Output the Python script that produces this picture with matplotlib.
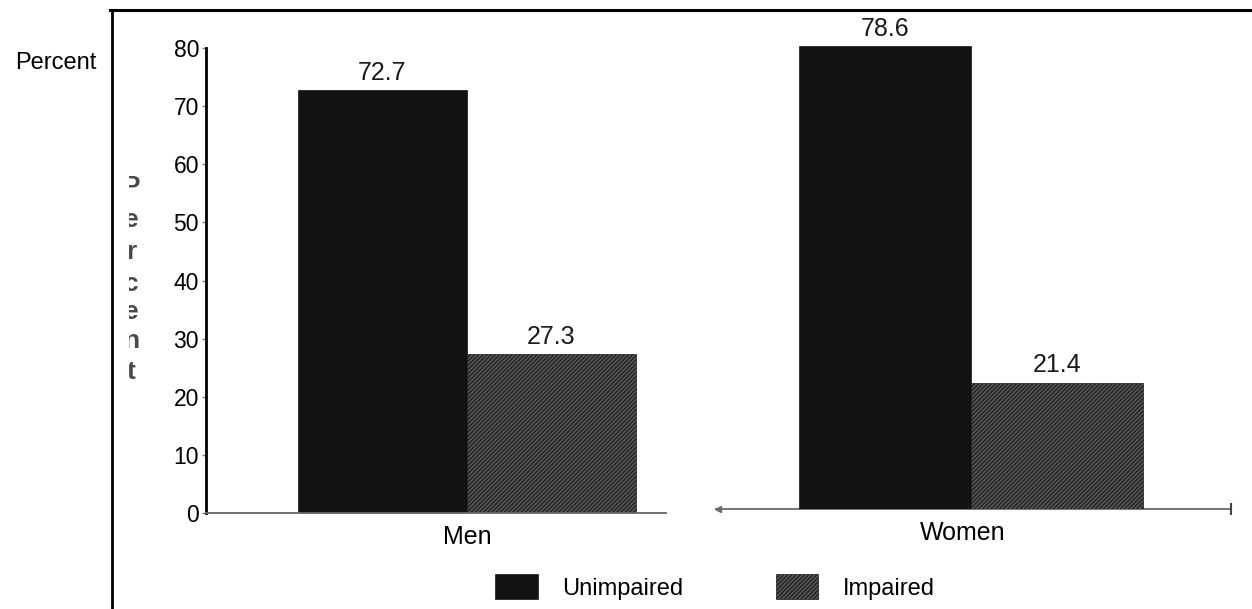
import matplotlib
matplotlib.use('Agg')
import matplotlib.pyplot as plt
from matplotlib.lines import Line2D
from matplotlib.patches import Rectangle

plt.rcParams['font.family'] = ['Liberation Sans', 'DejaVu Sans']
plt.rcParams['hatch.linewidth'] = 0.8

# data
groups = ['Men', 'Women']
series = ['Unimpaired', 'Impaired']
men_vals = [72.7, 27.3]
women_vals = [78.6, 21.4]
y_ticks = [0, 10, 20, 30, 40, 50, 60, 70, 80]

dark = '#121212'
hatch_face = '#555555'
hatch_edge = '#1a1a1a'

fig = plt.figure(figsize=(12.52, 6.09), dpi=100)

W, H = 1252, 609
def box(x0, x1, ybot, ytop):
    # pixel box -> figure fractions
    return [x0 / W, 1 - ybot / H, (x1 - x0) / W, (ybot - ytop) / H]

ax_m = fig.add_axes(box(206, 666, 513, 48))
ax_w = fig.add_axes(box(716, 1231, 509, 38))

def draw_group(ax, vals):
    bars = []
    for i, (name, v) in enumerate(zip(series, vals)):
        if name == 'Unimpaired':
            b = ax.bar(i, v, width=1.0, color=dark, edgecolor=dark, linewidth=0.5, label=name)
        else:
            b = ax.bar(i, v, width=1.0, color=hatch_face, edgecolor=hatch_edge,
                       hatch='////////', linewidth=0.5, label=name)
        ax.bar_label(b, labels=[f'{v:.1f}'], padding=4, fontsize=18, color='#1a1a1a')
        bars.append(b)
    ax.set_ylim(0, 80)
    return bars

bars = draw_group(ax_m, men_vals)
draw_group(ax_w, women_vals)

ax_m.set_xlim(-1.044, 1.678)
ax_w.set_xlim(-0.983, 2.011)

# men axis: y spine with ticks
for s in ['top', 'right']:
    ax_m.spines[s].set_visible(False)
ax_m.spines['left'].set_linewidth(2)
ax_m.spines['left'].set_color('black')
ax_m.spines['bottom'].set_linewidth(1.3)
ax_m.spines['bottom'].set_color('#666666')
ax_m.set_yticks(y_ticks)
ax_m.tick_params(axis='y', direction='out', length=3, width=1, color='#777777',
                 pad=2, labelsize=16.5)
ax_m.set_xticks([0.5])
ax_m.set_xticklabels([groups[0]], fontsize=18)
ax_m.tick_params(axis='x', length=0, pad=9)

# women axis: only a baseline with arrow ends
for s in ['top', 'right', 'left', 'bottom']:
    ax_w.spines[s].set_visible(False)
ax_w.set_yticks([])
ax_w.set_xticks([0.45])
ax_w.set_xticklabels([groups[1]], fontsize=18)
ax_w.tick_params(axis='x', length=0, pad=9)
ax_w.plot([0, 1], [0, 0], transform=ax_w.transAxes, color='#6a6a6a', lw=1.3,
          clip_on=False, zorder=0)
ax_w.plot([0.004], [0], transform=ax_w.transAxes, marker='<', ms=5, color='#6a6a6a',
          clip_on=False)
ax_w.plot([1], [0], transform=ax_w.transAxes, marker='|', ms=9, mew=1.5, color='#444444',
          clip_on=False)

# outer frame of the scan
fig.add_artist(Line2D([110 / W, 1], [1 - 10 / H, 1 - 10 / H], color='black', lw=2.2))
fig.add_artist(Line2D([112 / W, 112 / W], [0, 1 - 10 / H], color='black', lw=2))

fig.text(56 / W, 1 - 63 / H, 'Percent', fontsize=17, ha='center', va='center')

# faint, half-cut vertical axis title left by the scan
clip = Rectangle((129 / W, 0), 20 / W, 1, transform=fig.transFigure)
for ch, yp in zip('Percent', [187, 220, 252, 284, 312, 341, 372]):
    t = fig.text(131 / W, 1 - yp / H, ch, fontsize=19, ha='center', va='center',
                 color='#4a4a4a', fontweight='bold')
    t.set_clip_path(clip)

fig.legend(bars, series, loc='center', bbox_to_anchor=(715 / W, 1 - 587 / H),
           ncol=2, frameon=False, fontsize=17, handlelength=1.8, handleheight=1.25,
           handletextpad=1.05, columnspacing=3.9)

fig.savefig('out.png', dpi=100)
